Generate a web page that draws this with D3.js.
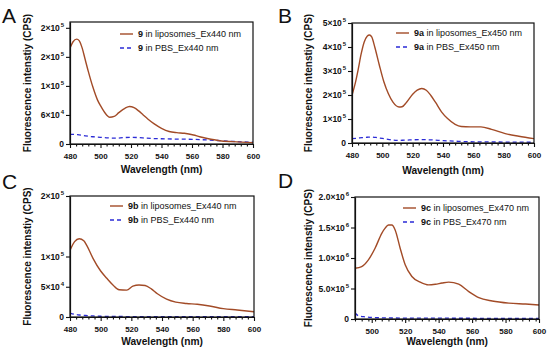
<!DOCTYPE html>
<html>
<head>
<meta charset="utf-8">
<script src="https://cdn.jsdelivr.net/npm/d3@7"></script>
<style>
  body { margin: 0; background: #fff; }
  svg { display: block; font-family: "Liberation Sans", Arial, sans-serif; }
</style>
</head>
<body>
<svg id="chart" width="550" height="357"></svg>
<script>
// ---- data ----
const wlLipoA = [480, 482, 484.4, 486, 488, 490, 492, 495, 498, 500, 504, 506, 509, 512, 516, 519, 522, 525, 528, 531, 535, 540, 545, 550, 555, 561, 565, 570, 578, 587, 600]
const lipoA = [1.65e5, 1.76e5, 1.805e5, 1.78e5, 1.65e5, 1.45e5, 1.25e5, 9.8e4, 7.6e4, 6.6e4, 5.0e4, 4.6e4, 4.75e4, 5.4e4, 6.15e4, 6.45e4, 6.25e4, 5.7e4, 5.0e4, 4.3e4, 3.5e4, 2.7e4, 2.15e4, 1.95e4, 1.85e4, 1.55e4, 1.25e4, 9.5e3, 5.7e3, 4e3, 2.3e3]
const wlPbsA = [480, 485, 490, 495, 500, 505, 510, 515, 520, 525, 530, 540, 550, 560, 570, 580, 590, 600]
const pbsA = [1.67e4, 1.6e4, 1.4e4, 1.25e4, 1.15e4, 1.05e4, 1.0e4, 1.1e4, 1.15e4, 1.1e4, 1.0e4, 9e3, 8.5e3, 8e3, 7e3, 5.5e3, 4e3, 3e3]

const wlLipoB = [480, 482, 484, 486, 488, 490, 491.5, 493, 495, 498, 501, 504, 507, 511, 513, 516, 520, 523, 526, 529, 532, 535, 539, 543, 548, 552, 558, 565, 572, 581, 590, 600]
const lipoB = [1.99e5, 2.45e5, 3.04e5, 3.7e5, 4.2e5, 4.45e5, 4.5e5, 4.42e5, 4.0e5, 3.25e5, 2.55e5, 2.05e5, 1.7e5, 1.5e5, 1.51e5, 1.7e5, 2.03e5, 2.2e5, 2.27e5, 2.2e5, 1.98e5, 1.7e5, 1.3e5, 1.02e5, 7.8e4, 6.9e4, 6.7e4, 6.7e4, 5.7e4, 3.9e4, 2.8e4, 1.8e4]
const wlPbsB = [480, 485, 490, 493, 497, 503, 510, 515, 525, 532, 540, 550, 560, 580, 600]
const pbsB = [1.8e4, 2.1e4, 2.4e4, 2.5e4, 2.2e4, 1.6e4, 1.1e4, 1.2e4, 1.4e4, 1.3e4, 1e4, 7e3, 5e3, 4e3, 3e3]

const wlLipoC = [480, 483, 486, 489, 491, 495, 500, 504, 508, 512, 517, 521, 525, 529, 533, 537, 543, 549, 556, 563, 571, 580, 589, 600]
const lipoC = [1.1e5, 1.245e5, 1.294e5, 1.26e5, 1.18e5, 9.7e4, 7.6e4, 6.4e4, 5.3e4, 4.5e4, 4.45e4, 5.1e4, 5.3e4, 5.2e4, 4.65e4, 3.85e4, 2.95e4, 2.45e4, 2.23e4, 2.1e4, 1.82e4, 1.38e4, 1.16e4, 8.7e3]
const wlPbsC = [480, 483, 486, 490, 495, 500, 510, 530, 560, 600]
const pbsC = [6.6e3, 4.5e3, 3.3e3, 2.5e3, 1.7e3, 1.2e3, 900, 600, 500, 400]

const wlLipoD = [490, 494, 498, 502, 506, 508, 510, 512, 514, 517, 520, 524, 529, 534, 538, 542, 546, 552, 558, 564, 572, 582, 592, 600]
const lipoD = [8.33e5, 8.6e5, 9.7e5, 1.16e6, 1.405e6, 1.49e6, 1.54e6, 1.54e6, 1.46e6, 1.16e6, 8.9e5, 6.97e5, 6.05e5, 5.6e5, 5.7e5, 5.9e5, 6.05e5, 5.7e5, 4.5e5, 3.5e5, 2.95e5, 2.6e5, 2.45e5, 2.3e5]
const wlPbsD = [490, 492, 496, 500, 505, 520, 560, 600]
const pbsD = [9.8e4, 5.4e4, 3.5e4, 2.5e4, 2e4, 1.5e4, 1.2e4, 1e4]

// y tick values and their labels (mantissa, exponent), as printed
const yTicksA = [0, 5e4, 1e5, 1.5e5, 2e5]
const yLabelsA = [['0', ''], ['6×10', '4'], ['1×10', '5'], ['2×10', '5'], ['2×10', '5']]
const yTicksB = [0, 1e5, 2e5, 3e5, 4e5, 5e5]
const yLabelsB = [['0', ''], ['1×10', '5'], ['2×10', '5'], ['3×10', '5'], ['4×10', '5'], ['5×10', '5']]
const yTicksC = [0, 5e4, 1e5, 2e5]
const yLabelsC = [['0', ''], ['5×10', '4'], ['1×10', '5'], ['2×10', '5']]
const yTicksD = [0, 5e5, 1e6, 1.5e6, 2e6]
const yLabelsD = [['0', ''], ['5.0×10', '5'], ['1.0×10', '6'], ['1.5×10', '6'], ['2.0×10', '6']]

const compounds = ['9', '9a', '9b', '9c']
const excitations = ['440', '450', '440', '470']
const letters = ['A', 'B', 'C', 'D']

const lipoColor = '#a24b27'
const pbsColor = '#2b2bd6'

const panels = [
  { box: [70, 253, 22, 144], xDom: [480, 600], yDom: [0, 2.1e5], yT: yTicksA, yL: yLabelsA,
    lipo: [wlLipoA, lipoA], pbs: [wlPbsA, pbsA], leg: [120, 34], ytx: 31, xtY: 173, letter: [2, 23] },
  { box: [352, 534, 23, 143], xDom: [480, 600], yDom: [0, 5e5], yT: yTicksB, yL: yLabelsB,
    lipo: [wlLipoB, lipoB], pbs: [wlPbsB, pbsB], leg: [396, 33], ytx: 312, xtY: 174, letter: [278, 23] },
  { box: [70, 254, 196, 317], xDom: [480, 600], yDom: [0, 2e5], yT: yTicksC, yL: yLabelsC,
    lipo: [wlLipoC, lipoC], pbs: [wlPbsC, pbsC], leg: [110, 206], ytx: 31, xtY: 345, letter: [2, 189] },
  { box: [355, 539, 197, 319], xDom: [490, 600], yDom: [0, 2e6], yT: yTicksD, yL: yLabelsD,
    lipo: [wlLipoD, lipoD], pbs: [wlPbsD, pbsD], leg: [403, 208], ytx: 312, xtY: 345, letter: [278, 188] }
]

const svg = d3.select('#chart')

panels.forEach((p, i) => {
  const [left, right, top, bottom] = p.box
  const x = d3.scaleLinear().domain(p.xDom).range([left, right])
  const y = d3.scaleLinear().domain(p.yDom).range([bottom, top])
  const g = svg.append('g')

  g.append('clipPath').attr('id', 'clip' + i)
    .append('rect').attr('x', left).attr('y', top - 2).attr('width', right - left).attr('height', bottom - top + 2)

  const line = d3.line().x(d => x(d[0])).y(d => y(d[1])).curve(d3.curveMonotoneX)
  const lipoPts = d3.zip(p.lipo[0], p.lipo[1])
  const pbsPts = d3.zip(p.pbs[0], p.pbs[1])

  g.append('path').datum(pbsPts).attr('d', line)
    .attr('fill', 'none').attr('stroke', pbsColor).attr('stroke-width', 1.3)
    .attr('stroke-dasharray', '4,3').attr('clip-path', `url(#clip${i})`)
  g.append('path').datum(lipoPts).attr('d', line)
    .attr('fill', 'none').attr('stroke', lipoColor).attr('stroke-width', 1.4)
    .attr('clip-path', `url(#clip${i})`)

  // frame
  g.append('rect').attr('x', left).attr('y', top).attr('width', right - left).attr('height', bottom - top)
    .attr('fill', 'none').attr('stroke', '#111').attr('stroke-width', 1.2)

  // x axis: major and minor ticks
  const majors = d3.range(500, 601, 20).concat(p.xDom[0] === 480 ? [480] : [])
  const minors = d3.range(p.xDom[0], 600.1, 4).filter(v => v % 20 !== 0)
  const xMinor = g.append('g').attr('transform', `translate(0,${bottom})`)
    .call(d3.axisBottom(x).tickValues(minors).tickSize(2.5).tickSizeOuter(0).tickFormat(''))
  const xMajor = g.append('g').attr('transform', `translate(0,${bottom})`)
    .call(d3.axisBottom(x).tickValues(majors).tickSize(4).tickSizeOuter(0).tickPadding(5.5).tickFormat(d3.format('d')))
  ;[xMinor, xMajor].forEach(a => {
    a.select('.domain').attr('stroke', '#111').attr('stroke-width', 1.2)
    a.selectAll('line').attr('stroke', '#111').attr('stroke-width', 1.1)
  })
  xMajor.selectAll('text').attr('font-size', 8).attr('font-weight', 'bold').attr('fill', '#111')

  // y axis
  const yAx = g.append('g').attr('transform', `translate(${left},0)`)
    .call(d3.axisLeft(y).tickValues(p.yT).tickSize(4).tickSizeOuter(0).tickFormat(''))
  yAx.select('.domain').attr('stroke', '#111').attr('stroke-width', 1.2)
  yAx.selectAll('line').attr('stroke', '#111').attr('stroke-width', 1.1)
  yAx.selectAll('.tick').each(function (d, k) {
    const lab = p.yL[k]
    const t = d3.select(this).append('text')
      .attr('x', -6).attr('dy', '0.32em').attr('text-anchor', 'end')
      .attr('font-size', 8.5).attr('font-weight', 'bold').attr('fill', '#111')
    t.append('tspan').text(lab[0])
    if (lab[1]) t.append('tspan').attr('font-size', 6).attr('dy', '-0.7em').attr('dx', 0.8).text(lab[1])
  })

  // axis titles
  g.append('text').attr('x', (left + right) / 2).attr('y', p.xtY)
    .attr('text-anchor', 'middle').attr('font-size', 10.2).attr('font-weight', 'bold').attr('fill', '#111')
    .text('Wavelength (nm)')
  g.append('text').attr('transform', `translate(${p.ytx},${(top + bottom) / 2}) rotate(-90)`)
    .attr('text-anchor', 'middle').attr('font-size', 10).attr('font-weight', 'bold').attr('fill', '#111')
    .text('Fluorescence intenstiy (CPS)')

  // legend
  const [lx, ly] = p.leg
  const rows = [
    { name: ' in liposomes_Ex' + excitations[i] + ' nm', color: lipoColor, dash: null },
    { name: ' in PBS_Ex' + excitations[i] + ' nm', color: pbsColor, dash: '4,3' }
  ]
  rows.forEach((r, k) => {
    const yy = ly + k * 14
    g.append('line').attr('x1', lx).attr('x2', lx + 13).attr('y1', yy).attr('y2', yy)
      .attr('stroke', r.color).attr('stroke-width', 1.4).attr('stroke-dasharray', r.dash)
    const t = g.append('text').attr('x', lx + 18).attr('y', yy + 3.2)
      .attr('font-size', 9).attr('fill', '#111')
    t.append('tspan').attr('font-weight', 'bold').text(compounds[i])
    t.append('tspan').text(r.name)
  })

  // panel letter
  svg.append('text').attr('x', p.letter[0]).attr('y', p.letter[1])
    .attr('font-size', 21).attr('fill', '#111').text(letters[i])
})
</script>
</body>
</html>
